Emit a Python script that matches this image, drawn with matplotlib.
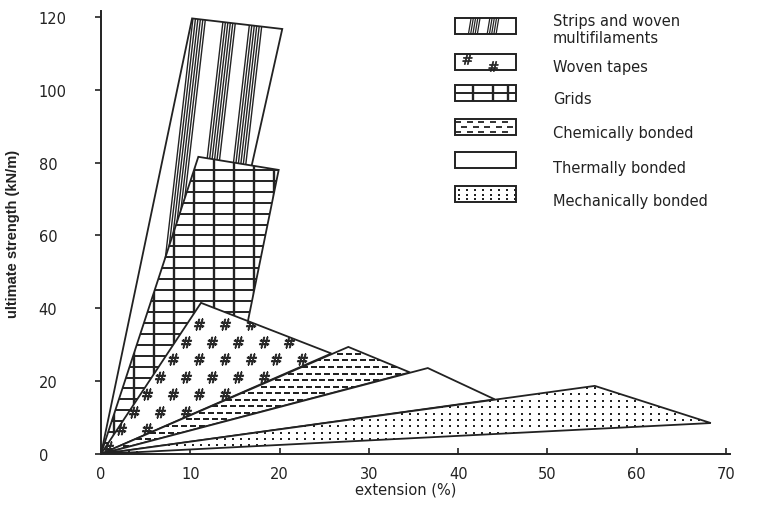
import numpy as np
import matplotlib
matplotlib.use("Agg")
import matplotlib.pyplot as plt
from matplotlib.patches import Polygon, Rectangle
from matplotlib.path import Path

# DATA: extension (%) / ultimate strength (kN/m) envelope corners, from the origin
STRIPS_EXT = [0, 10.2, 20.3, 13.3]
STRIPS_STR = [0, 119.6, 116.7, 40.0]
GRIDS_EXT = [0, 10.9, 19.9, 15.5]
GRIDS_STR = [0, 81.6, 78.0, 25.0]
WOVEN_EXT = [0, 11.2, 25.8]
WOVEN_STR = [0, 41.5, 27.6]
CHEM_EXT = [0, 27.7, 34.6]
CHEM_STR = [0, 29.4, 22.4]
THERMAL_EXT = [0, 36.6, 44.1]
THERMAL_STR = [0, 23.6, 15.0]
MECH_EXT = [0, 55.3, 68.3]
MECH_STR = [0, 18.7, 8.5]

LABELS = ["Strips and woven\nmultifilaments", "Woven tapes", "Grids",
          "Chemically bonded", "Thermally bonded", "Mechanically bonded"]
X_TICKS = [0, 10, 20, 30, 40, 50, 60, 70]
Y_TICKS = [0, 20, 40, 60, 80, 100, 120]

# STYLE
INK = "#222222"
EDGE_LW = 1.3
FONT = "DejaVu Sans"


def lattice(x0, x1, y0, y1, dx, dy, shift=True):
    pts = []
    for i, y in enumerate(np.arange(y0, y1, dy)):
        off = (i % 2) * dx / 2 if shift else 0
        pts += [(x, y) for x in np.arange(x0 + off, x1, dx)]
    return np.array(pts)


def add_shape(ax, verts, z):
    patch = Polygon(verts, closed=True, facecolor="white", edgecolor="none", zorder=z)
    ax.add_patch(patch)
    ax.add_patch(Polygon(verts, closed=True, fill=False, edgecolor=INK,
                         lw=EDGE_LW, zorder=z + 0.2, joinstyle="miter"))
    return patch


def add_box(ax, x0, y0, w, h, z=20):
    patch = Rectangle((x0, y0), w, h, facecolor="white", edgecolor="none", zorder=z)
    ax.add_patch(patch)
    ax.add_patch(Rectangle((x0, y0), w, h, fill=False, edgecolor=INK, lw=1.4, zorder=z + 0.2))
    return patch


def draw_bands(ax, patch, tops, y_top, n=6, width=1.4, slope=0.047, lw=1.0):
    for xt in tops:
        for xs in np.linspace(xt, xt + width, n):
            ln, = ax.plot([xs, xs - slope * y_top], [y_top, 0], color=INK, lw=lw,
                          zorder=patch.get_zorder() + 0.1)
            ln.set_clip_path(patch)


def draw_grid(ax, patch, xs, ys, x_rng, y_rng):
    z = patch.get_zorder() + 0.1
    for x in xs:
        ln, = ax.plot([x, x], y_rng, color=INK, lw=1.7, zorder=z)
        ln.set_clip_path(patch)
    for y in ys:
        ln, = ax.plot(x_rng, [y, y], color=INK, lw=1.4, zorder=z)
        ln.set_clip_path(patch)


def draw_marks(ax, patch, pts, marker, size, lw=1.0):
    inside = Path(patch.get_verts()).contains_points(ax.transData.transform(pts))
    pts = pts[inside]
    sc = ax.scatter(pts[:, 0], pts[:, 1], marker=marker, s=size, c=INK,
                    linewidths=lw, zorder=patch.get_zorder() + 0.1)
    sc.set_clip_path(patch)


fig = plt.figure(figsize=(7.71, 5.06), dpi=100)
ax = fig.add_axes([0.131, 0.1008, 0.8153, 0.8745])
ax.set_xlim(0, 70.4)
ax.set_ylim(0, 121.5)

# envelopes, back to front
p = add_shape(ax, np.column_stack([STRIPS_EXT, STRIPS_STR]), 1)
draw_bands(ax, p, [10.3, 13.7, 16.7], 119.6)

p = add_shape(ax, np.column_stack([GRIDS_EXT, GRIDS_STR]), 2)
draw_grid(ax, p, np.arange(1.4, 21, 2.24), np.arange(0, 80, 3.0), [0, 21], [0, 83])

p = add_shape(ax, np.column_stack([WOVEN_EXT, WOVEN_STR]), 3)
draw_marks(ax, p, lattice(0.8, 26, 2.0, 41, 2.9, 4.8), r"$\#$", 60, lw=0.6)

p = add_shape(ax, np.column_stack([CHEM_EXT, CHEM_STR]), 4)
draw_marks(ax, p, lattice(0.3, 35, 0.5, 30, 1.0, 1.8), "_", 14, lw=1.4)

p = add_shape(ax, np.column_stack([THERMAL_EXT, THERMAL_STR]), 5)

p = add_shape(ax, np.column_stack([MECH_EXT, MECH_STR]), 6)
draw_marks(ax, p, lattice(0.4, 69, 0.6, 19, 0.9, 1.75, shift=False), "s", 4, lw=0)

# legend
bx, bw, bh = 39.6, 6.9, 4.4
box_y = [115.3, 105.4, 96.9, 87.6, 78.5, 69.2]
lab_y = [116.7, 106.5, 97.5, 88.4, 78.8, 69.7]
boxes = [add_box(ax, bx, y, bw, bh) for y in box_y]
b = boxes[0]
for xt in [41.3, 43.4]:
    for xs in np.linspace(xt, xt + 1.0, 5):
        ln, = ax.plot([xs + 0.15, xs - 0.15], [box_y[0] + bh, box_y[0]], color=INK, lw=0.9, zorder=20.1)
        ln.set_clip_path(b)
ax.scatter([41.0, 43.9], [box_y[1] + 3.0, box_y[1] + 1.2], marker=r"$\#$", s=50, c=INK,
           linewidths=0.5, zorder=20.1)
draw_grid(ax, boxes[2], [41.7, 43.9, 45.6], [box_y[2] + bh / 2], [bx, bx + bw], [box_y[2], box_y[2] + bh])
draw_marks(ax, boxes[3], lattice(bx + 0.4, bx + bw, box_y[3] + 0.8, box_y[3] + bh, 1.3, 1.4), "_", 14, lw=1.3)
draw_marks(ax, boxes[5], lattice(bx + 0.5, bx + bw, box_y[5] + 0.7, box_y[5] + bh, 0.9, 1.3, shift=False),
           "s", 4, lw=0)
for label, y in zip(LABELS, lab_y):
    ax.text(50.6, y, label, ha="left", va="center", fontsize=10.5, family=FONT,
            color=INK, linespacing=1.2, zorder=21)

# axes
for side in ["top", "right"]:
    ax.spines[side].set_visible(False)
for side in ["left", "bottom"]:
    ax.spines[side].set_color(INK)
    ax.spines[side].set_linewidth(1.4)
ax.set_xticks(X_TICKS)
ax.set_yticks(Y_TICKS)
ax.tick_params(axis="x", direction="in", length=4, width=1.2, color=INK, pad=9,
               labelsize=10.5, labelcolor=INK)
ax.tick_params(axis="y", direction="out", length=4, width=1.2, color=INK, pad=41,
               labelsize=10.5, labelcolor=INK)
for t in ax.get_yticklabels():
    t.set_horizontalalignment("left")
ax.set_xlabel("extension (%)", fontsize=10.5, family=FONT, color=INK)
ax.xaxis.set_label_coords(0.485, -0.063)
ax.set_ylabel("ultimate strength (kN/m)", fontsize=10.5, fontweight="bold",
              family=["Liberation Sans", "DejaVu Sans"], color=INK)
ax.yaxis.set_label_coords(-0.129, 0.5)

fig.savefig("out.png", dpi=100)
